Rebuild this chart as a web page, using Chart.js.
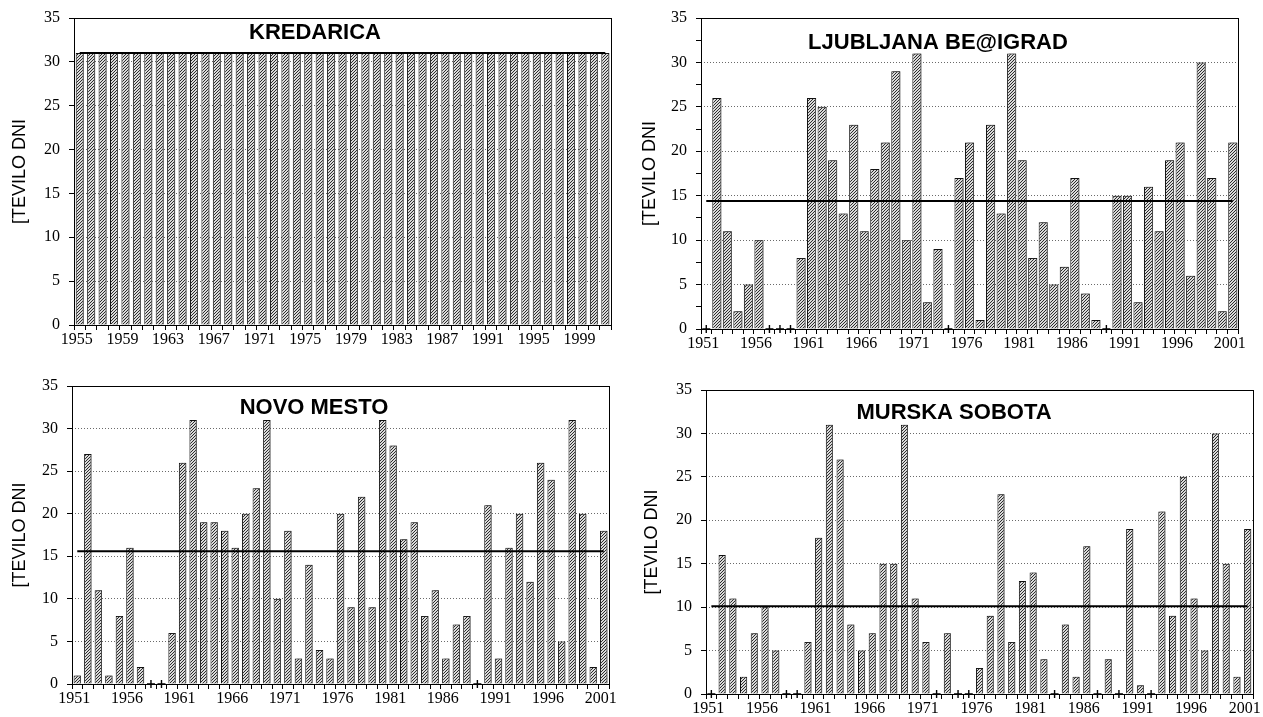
<!DOCTYPE html>
<html>
<head>
<meta charset="utf-8">
<script src="https://cdn.jsdelivr.net/npm/chart.js@4.4.1/dist/chart.umd.min.js"></script>
<style>
  html, body { margin: 0; padding: 0; background: #fff; }
  body { width: 1263px; height: 717px; position: relative; overflow: hidden; }
  canvas { position: absolute; display: block; }
</style>
</head>
<body>
<canvas id="kredarica" width="630" height="358" style="left:0;top:0"></canvas>
<canvas id="ljubljana" width="633" height="358" style="left:630px;top:0"></canvas>
<canvas id="novomesto" width="630" height="359" style="left:0;top:358px"></canvas>
<canvas id="murskasobota" width="633" height="359" style="left:630px;top:358px"></canvas>
<script>
// Years shown on the horizontal axes
const kredaricaYears = [1955,1956,1957,1958,1959,1960,1961,1962,1963,1964,1965,1966,1967,1968,1969,1970,
  1971,1972,1973,1974,1975,1976,1977,1978,1979,1980,1981,1982,1983,1984,1985,1986,1987,1988,1989,1990,
  1991,1992,1993,1994,1995,1996,1997,1998,1999,2000,2001];
const lowlandYears = [1951,1952,1953,1954,1955,1956,1957,1958,1959,1960,1961,1962,1963,1964,1965,1966,
  1967,1968,1969,1970,1971,1972,1973,1974,1975,1976,1977,1978,1979,1980,1981,1982,1983,1984,1985,1986,
  1987,1988,1989,1990,1991,1992,1993,1994,1995,1996,1997,1998,1999,2000,2001];

// Labelled years
const kredaricaTickYears = [1955,1959,1963,1967,1971,1975,1979,1983,1987,1991,1995,1999];
const lowlandTickYears = [1951,1956,1961,1966,1971,1976,1981,1986,1991,1996,2001];

// Number of days per year
const kredaricaDays = [31,31,31,31,31,31,31,31,31,31,31,31,31,31,31,31,31,31,31,31,31,31,31,31,
  31,31,31,31,31,31,31,31,31,31,31,31,31,31,31,31,31,31,31,31,31,31,31];
const ljubljanaDays = [0,26,11,2,5,10,0,0,0,8,26,25,19,13,23,11,18,21,29,10,31,3,9,0,17,21,1,23,13,31,
  19,8,12,5,7,17,4,1,0,15,15,3,16,11,19,21,6,30,17,2,21];
const novoMestoDays = [1,27,11,1,8,16,2,0,0,6,26,31,19,19,18,16,20,23,31,10,18,3,14,4,3,20,9,22,9,31,
  28,17,19,8,11,3,7,8,0,21,3,16,20,12,26,24,5,31,20,2,18];
const murskaSobotaDays = [0,16,11,2,7,10,5,0,0,6,18,31,27,8,5,7,15,15,31,11,6,0,7,0,0,3,9,23,6,13,
  14,4,0,8,2,17,0,4,0,19,1,0,21,9,25,11,5,30,15,2,19];

// Reference period for the horizontal average line
const normalStart = 1961, normalEnd = 1990;

function periodMean(years, values, from, to) {
  let s = 0, n = 0;
  years.forEach((y, i) => { if (y >= from && y <= to) { s += values[i]; n++; } });
  return n ? s / n : 0;
}

function hatchPattern() {
  const c = document.createElement('canvas');
  c.width = 3; c.height = 3;
  const g = c.getContext('2d');
  g.fillStyle = '#dadada';
  g.fillRect(0, 0, 3, 3);
  g.fillStyle = '#2c2c2c';
  g.fillRect(0, 2, 1, 1);
  g.fillRect(1, 1, 1, 1);
  g.fillRect(2, 0, 1, 1);
  return g.createPattern(c, 'repeat');
}

// Box around the plot area plus the station name inside it
const framePlugin = {
  id: 'frame',
  afterDraw(chart, args, opts) {
    const { ctx, chartArea: a } = chart;
    ctx.save();
    ctx.strokeStyle = '#000';
    ctx.lineWidth = 1;
    ctx.strokeRect(Math.round(a.left) + 0.5, Math.round(a.top) + 0.5,
      Math.round(a.right) - Math.round(a.left), Math.round(a.bottom) - Math.round(a.top));
    ctx.font = 'bold 22px "Liberation Sans", Arial, sans-serif';
    ctx.textAlign = 'center';
    ctx.textBaseline = 'middle';
    ctx.fillStyle = '#000';
    ctx.fillText(opts.text, opts.x, opts.y);
    ctx.restore();
  }
};

// Grey drop shadow on the right side of each bar
const shadowPlugin = {
  id: 'barShadow',
  beforeDatasetDraw(chart, args) {
    if (args.meta.type !== 'bar') return;
    const ctx = chart.ctx;
    ctx.save();
    ctx.shadowColor = 'rgba(90,90,90,0.75)';
    ctx.shadowOffsetX = 2;
    ctx.shadowOffsetY = 0;
    ctx.shadowBlur = 0;
  },
  afterDatasetDraw(chart, args) {
    if (args.meta.type !== 'bar') return;
    chart.ctx.restore();
  }
};

const tickFont = { family: '"Liberation Serif", "Times New Roman", serif', size: 16 };

function makePanel(id, cfg) {
  const canvas = document.getElementById(id);
  const W = canvas.width, H = canvas.height;
  const area = cfg.area;
  const mean = periodMean(cfg.years, cfg.values, normalStart, normalEnd);
  const zeroMarks = cfg.values.map(v => (v === 0 ? 0 : null));

  return new Chart(canvas, {
    type: 'bar',
    data: {
      labels: cfg.years.map(String),
      datasets: [
        {
          type: 'line',
          data: cfg.years.map(() => mean),
          borderColor: '#000',
          borderWidth: 2,
          pointRadius: 0,
          fill: false,
          order: 0
        },
        {
          // years without any such day are marked with a small cross on the axis
          type: 'line',
          data: zeroMarks,
          showLine: false,
          pointStyle: 'cross',
          pointRadius: 4,
          borderColor: '#000',
          borderWidth: 1.4,
          clip: false,
          order: 1
        },
        {
          type: 'bar',
          data: cfg.values,
          backgroundColor: hatchPattern(),
          borderColor: '#111',
          borderWidth: 1,
          barPercentage: cfg.barPct,
          categoryPercentage: 1,
          order: 2
        }
      ]
    },
    options: {
      responsive: false,
      animation: false,
      events: [],
      layout: { padding: { left: 0, top: area.top, right: W - area.right, bottom: 0 } },
      plugins: {
        legend: { display: false },
        tooltip: { enabled: false },
        frame: { text: cfg.title, x: cfg.titleX, y: cfg.titleY }
      },
      scales: {
        x: {
          offset: true,
          grid: { offset: true, drawOnChartArea: false, tickLength: 5, tickColor: '#000', color: '#000' },
          border: { display: false },
          ticks: {
            autoSkip: false,
            maxRotation: 0,
            minRotation: 0,
            labelOffset: -3,
            padding: 0,
            color: '#000',
            font: tickFont,
            callback: (v, i) => (cfg.tickYears.includes(cfg.years[i]) ? String(cfg.years[i]) : '')
          },
          afterFit: s => { s.height = H - area.bottom; s.paddingLeft = 0; s.paddingRight = 0; }
        },
        y: {
          min: 0,
          max: 35,
          ticks: {
            stepSize: 2.5,
            padding: 9,
            color: '#000',
            font: tickFont,
            callback: v => (v % 5 === 0 ? String(v) : '')
          },
          grid: {
            color: c => (c.tick && c.tick.value % 5 === 0 && c.tick.value > 0 && c.tick.value < 35)
              ? '#6a6a6a' : 'rgba(0,0,0,0)',
            tickColor: '#000',
            tickLength: 5,
            lineWidth: 1
          },
          border: { display: false, dash: [1, 2] },
          title: {
            display: true,
            text: '[TEVILO DNI',
            color: '#000',
            font: { family: '"Liberation Sans", Arial, sans-serif', size: 18 },
            padding: { top: cfg.yTitlePad, bottom: 0 }
          },
          afterFit: s => { s.width = area.left; s.paddingTop = 0; s.paddingBottom = 0; }
        }
      }
    },
    plugins: [framePlugin, shadowPlugin]
  });
}

makePanel('kredarica', {
  title: 'KREDARICA', titleX: 315, titleY: 33,
  years: kredaricaYears, values: kredaricaDays, tickYears: kredaricaTickYears,
  area: { left: 74, top: 18, right: 611, bottom: 325 },
  barPct: 0.7, yTitlePad: 9
});
makePanel('ljubljana', {
  title: 'LJUBLJANA BE@IGRAD', titleX: 308, titleY: 43,
  years: lowlandYears, values: ljubljanaDays, tickYears: lowlandTickYears,
  area: { left: 71, top: 18, right: 608, bottom: 329 },
  barPct: 0.86, yTitlePad: 9
});
makePanel('novomesto', {
  title: 'NOVO MESTO', titleX: 314, titleY: 50,
  years: lowlandYears, values: novoMestoDays, tickYears: lowlandTickYears,
  area: { left: 72, top: 28, right: 609, bottom: 326 },
  barPct: 0.7, yTitlePad: 9
});
makePanel('murskasobota', {
  title: 'MURSKA SOBOTA', titleX: 324, titleY: 55,
  years: lowlandYears, values: murskaSobotaDays, tickYears: lowlandTickYears,
  area: { left: 76, top: 32, right: 623, bottom: 336 },
  barPct: 0.66, yTitlePad: 11
});
</script>
</body>
</html>
